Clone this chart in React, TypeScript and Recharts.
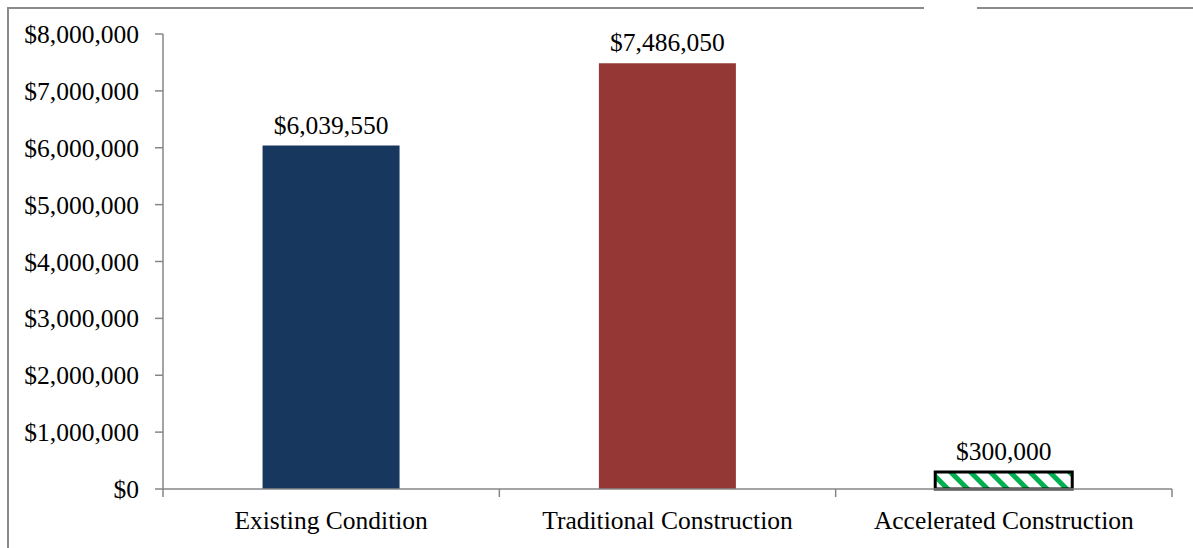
import { BarChart, Bar, XAxis, YAxis, Cell, LabelList } from 'recharts';

const categories = ['Existing Condition', 'Traditional Construction', 'Accelerated Construction'];
const costs = [6039550, 7486050, 300000];
const yTicks = [0, 1000000, 2000000, 3000000, 4000000, 5000000, 6000000, 7000000, 8000000];

const data = categories.map((name, i) => ({ name, cost: costs[i] }));

const CHART_W = 1193;
const CHART_H = 548;
const Y_AXIS_W = 163;
const margin = { top: 34, right: 21, left: 0, bottom: 19 };
const band = (CHART_W - margin.left - margin.right - Y_AXIS_W) / categories.length;

const axisColor = '#868686';
const font = '"Liberation Serif", "Times New Roman", serif';
const fontSize = 25.5;

const money = (v: number) => '$' + Number(v).toLocaleString('en-US');

function CategoryTick(props: any) {
  const { x, y, payload, index } = props;
  const last = index === categories.length - 1;
  return (
    <g>
      <line x1={x - band / 2} x2={x - band / 2} y1={y - 8} y2={y} stroke={axisColor} strokeWidth={1.5} />
      {last && <line x1={x + band / 2} x2={x + band / 2} y1={y - 8} y2={y} stroke={axisColor} strokeWidth={1.5} />}
      <text x={x} y={y + 32} textAnchor="middle" fill="#000" fontFamily={font} fontSize={fontSize}>
        {payload.value}
      </text>
    </g>
  );
}

export default function App() {
  return (
    <div style={{ position: 'absolute', left: 0, top: 0, width: CHART_W, height: CHART_H, background: '#fff', overflow: 'hidden' }}>
      {/* chart area border, open on the right and bottom */}
      <div style={{ position: 'absolute', left: 7, top: 7, width: 2, height: CHART_H, background: '#8a8a8a' }} />
      <div style={{ position: 'absolute', left: 7, top: 7, width: 917, height: 2, background: '#8a8a8a' }} />
      <div style={{ position: 'absolute', left: 977, top: 7, width: CHART_W, height: 2, background: '#8a8a8a' }} />
      <div style={{ position: 'absolute', left: 0, top: 0 }}>
        <BarChart width={CHART_W} height={CHART_H} data={data} margin={margin} barCategoryGap="29.6%">
          <defs>
            <pattern id="greenStripes" patternUnits="userSpaceOnUse" width="14" height="14" patternTransform="rotate(-45)">
              <rect width="14" height="14" fill="#fff" />
              <rect width="5" height="14" fill="#00B050" />
            </pattern>
          </defs>
          <XAxis
            dataKey="name"
            axisLine={{ stroke: axisColor, strokeWidth: 1.5 }}
            tickLine={false}
            tickSize={8}
            tickMargin={0}
            height={40}
            interval={0}
            tick={<CategoryTick />}
          />
          <YAxis
            width={Y_AXIS_W}
            domain={[0, 8000000]}
            ticks={yTicks}
            tickFormatter={money}
            axisLine={{ stroke: axisColor, strokeWidth: 1.5 }}
            tickLine={{ stroke: axisColor, strokeWidth: 1.5 }}
            tickSize={8}
            tickMargin={16}
            tick={{ fill: '#000', fontFamily: font, fontSize }}
            interval={0}
          />
          <Bar dataKey="cost" isAnimationActive={false}>
            <Cell fill="#17375E" />
            <Cell fill="#953735" />
            <Cell fill="url(#greenStripes)" stroke="#000" strokeWidth={3} />
            <LabelList
              dataKey="cost"
              position="top"
              offset={12}
              formatter={(v: any) => money(v)}
              style={{ fill: '#000', fontFamily: font, fontSize }}
            />
          </Bar>
        </BarChart>
      </div>
    </div>
  );
}
